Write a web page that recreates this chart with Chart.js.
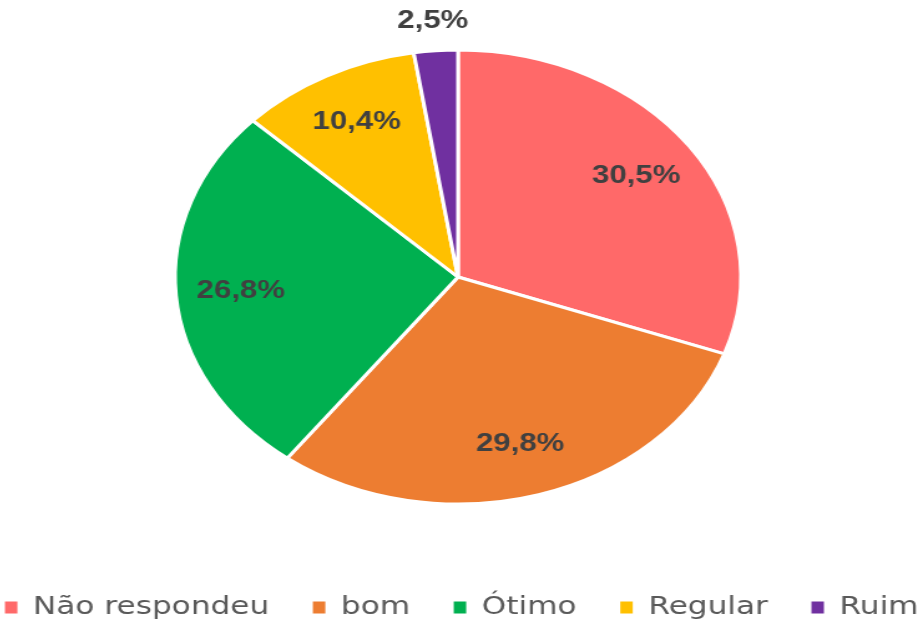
<!DOCTYPE html>
<html>
<head>
<meta charset="utf-8">
<script src="https://cdn.jsdelivr.net/npm/chart.js@4"></script>
<style>
html,body{margin:0;padding:0;background:#fff;overflow:hidden}
#wrap{width:738px;height:622px;transform:translate(-2px,-3px) scaleX(1.2466);transform-origin:0 0}
</style>
</head>
<body>
<div id="wrap"><canvas id="chart-1"></canvas></div>
<script>
const labels = ['Não respondeu', 'bom', 'Ótimo', 'Regular', 'Ruim'];
const values = [30.5, 29.8, 26.8, 10.4, 2.5];
const colors = ['#FF6969', '#ED7D31', '#00B050', '#FFC000', '#7030A0'];

// draws the percentage labels at the slice centres (last one outside)
const sliceLabels = {
  id: 'sliceLabels',
  afterLayout(chart){
    // legend sits a bit right of the pie centre in the original
    chart.legend.left += 10;
    chart.legend.right += 10;
    chart.legend.top += 3;
    chart.legend.bottom += 3;
  },
  afterDatasetsDraw(chart){
    const ctx = chart.ctx;
    const meta = chart.getDatasetMeta(0);
    ctx.save();
    ctx.font = 'bold 25px "Liberation Sans"';
    ctx.fillStyle = '#404040';
    ctx.textAlign = 'center';
    ctx.textBaseline = 'middle';
    meta.data.forEach((arc, i) => {
      const p = arc.getProps(['x','y','startAngle','endAngle','outerRadius'], true);
      const mid = (p.startAngle + p.endAngle) / 2;
      const r = values[i] < 5 ? p.outerRadius + 30 : p.outerRadius * 0.77;
      const txt = values[i].toFixed(1).replace('.', ',') + '%';
      ctx.fillText(txt, p.x + Math.cos(mid) * r, p.y + Math.sin(mid) * r);
    });
    ctx.restore();
  }
};

const ctx = document.getElementById('chart-1');

new Chart(ctx, {
  type: 'pie',
  data: {
    labels: labels,
    datasets: [{
      data: values,
      backgroundColor: colors,
      borderColor: '#ffffff',
      borderWidth: 3,
      radius: 227
    }]
  },
  options: {
    responsive: true,
    maintainAspectRatio: false,
    animation: false,
    layout: {
      padding: {top: -11, bottom: -8, left: -51, right: -37}
    },
    plugins: {
      tooltip: {enabled: false},
      legend: {
        position: 'bottom',
        labels: {
          font: {family: 'DejaVu Sans', size: 25},
          color: '#595959',
          boxWidth: 10,
          boxHeight: 12,
          padding: 35,
          generateLabels: function(chart){
            const items = Chart.overrides.pie.plugins.legend.labels.generateLabels(chart);
            return items.map(it => Object.assign(it, {lineWidth: 0, strokeStyle: 'rgba(0,0,0,0)'}));
          }
        }
      }
    }
  },
  plugins: [sliceLabels]
});
</script>
</body>
</html>
